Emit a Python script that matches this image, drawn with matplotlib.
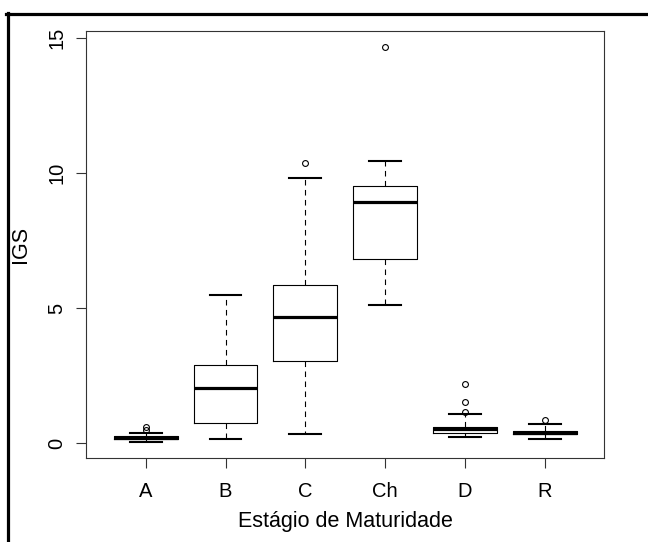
import matplotlib
matplotlib.use("Agg")
import matplotlib.pyplot as plt
from matplotlib.lines import Line2D

# Gonadosomatic index (IGS) summaries by maturity stage
stages = ["A", "B", "C", "Ch", "D", "R"]
q1 = [0.14, 0.74, 3.05, 6.81, 0.38, 0.32]
med = [0.20, 2.05, 4.67, 8.94, 0.52, 0.38]
q3 = [0.26, 2.89, 5.84, 9.52, 0.60, 0.44]
whis_lo = [0.05, 0.16, 0.33, 5.10, 0.23, 0.15]
whis_hi = [0.38, 5.50, 9.81, 10.46, 1.06, 0.69]
outliers = [[0.48, 0.60], [], [10.38], [14.68], [1.14, 1.52, 2.19], [0.84]]

yticks = [0, 5, 10, 15]

plt.rcParams["font.family"] = ["Liberation Sans", "DejaVu Sans"]

fig = plt.figure(figsize=(6.48, 5.42), dpi=100)
ax = fig.add_axes([86 / 648, 1 - 458 / 542, (604 - 86) / 648, (458 - 31) / 542])

stats = []
for i, s in enumerate(stages):
    stats.append(dict(label=s, q1=q1[i], med=med[i], q3=q3[i],
                      whislo=whis_lo[i], whishi=whis_hi[i], fliers=outliers[i]))

ax.bxp(stats, positions=range(1, len(stages) + 1), widths=0.8,
       showfliers=True, patch_artist=False,
       boxprops=dict(color="black", linewidth=0.8),
       medianprops=dict(color="black", linewidth=2.3, solid_capstyle="butt"),
       whiskerprops=dict(color="black", linewidth=0.8, linestyle=(0, (5, 4))),
       capprops=dict(color="black", linewidth=1.5),
       capwidths=0.4,
       flierprops=dict(marker="o", markersize=4.2, markerfacecolor="none",
                       markeredgecolor="black", markeredgewidth=0.8))

ax.set_xlim(0.253, 6.74)
ax.set_ylim(-0.556, 15.26)
ax.set_yticks(yticks)
ax.set_yticklabels([str(v) for v in yticks], rotation=90, va="center")
ax.set_xticks(range(1, len(stages) + 1))
ax.set_xticklabels(stages)

for sp in ax.spines.values():
    sp.set_linewidth(0.8)
    sp.set_color("#333333")

ax.tick_params(axis="both", direction="out", length=7, width=0.8,
               color="#333333", labelsize=14.5)
ax.tick_params(axis="x", pad=10)
ax.tick_params(axis="y", pad=7)

fig.text(345 / 648, 1 - 522 / 542, "Estágio de Maturidade", ha="center",
         va="center", fontsize=15.5)
fig.text(21 / 648, 1 - 244 / 542, "IGS", ha="center", va="center",
         rotation=90, fontsize=15.5)

# outer frame (top and left edges)
fig.add_artist(Line2D([6 / 648, 1.0], [1 - 13.5 / 542, 1 - 13.5 / 542],
                      transform=fig.transFigure, color="black", linewidth=2.3))
fig.add_artist(Line2D([7.5 / 648, 7.5 / 648], [0.0, 1 - 12.5 / 542],
                      transform=fig.transFigure, color="black", linewidth=2.3))

fig.savefig("out.png", dpi=100)
